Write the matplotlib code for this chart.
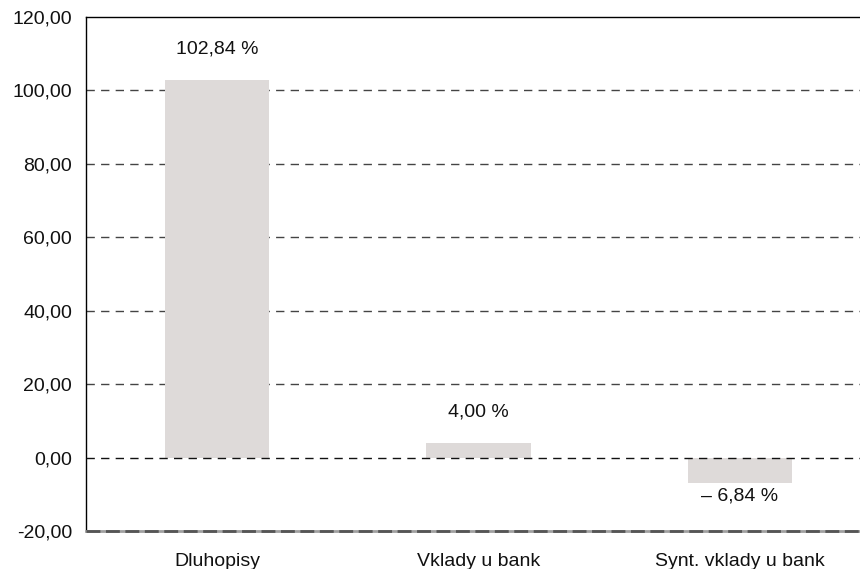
import matplotlib

matplotlib.use("Agg")
import matplotlib.pyplot as plt
from matplotlib.ticker import FuncFormatter

categories = ["Dluhopisy", "Vklady u bank", "Synt. vklady u bank"]
values = [102.84, 4.00, -6.84]
labels = ["102,84 %", "4,00 %", "\u2013 6,84 %"]
yticks = [-20, 0, 20, 40, 60, 80, 100, 120]

plt.rcParams["font.family"] = ["Liberation Sans", "DejaVu Sans"]
plt.rcParams["text.color"] = "#111111"

fig = plt.figure(figsize=(8.6, 5.69), dpi=100)
ax = fig.add_axes([0.1, 0.0668, 0.9, 0.9033])

x = list(range(len(categories)))
ax.bar(x, values, width=0.4, color="#dedad9", zorder=2)

for v in yticks[1:-1]:
    ax.axhline(v, color="#444444" if v else "#111111", lw=1.0,
               dashes=(6, 4.5), zorder=1 if v else 3)
# bottom edge: grey line with darker dashes on top
ax.axhline(-20, color="#a0a0a0", lw=2.0, zorder=3, clip_on=False)
ax.axhline(-20, color="#555555", lw=2.0, dashes=(5, 2), zorder=4, clip_on=False)

for xi, v, lab in zip(x, values, labels):
    if v >= 0:
        ax.annotate(lab, (xi, v), xytext=(0, 16), textcoords="offset points",
                    ha="center", va="bottom", fontsize=14)
    else:
        ax.annotate(lab, (xi, v), xytext=(0, -3.5), textcoords="offset points",
                    ha="center", va="top", fontsize=14)

ax.set_xlim(-0.502, 2.46)
ax.set_ylim(-20, 120)
ax.set_yticks(yticks)
ax.yaxis.set_major_formatter(FuncFormatter(lambda v, p: f"{v:.2f}".replace(".", ",")))
ax.set_xticks(x)
ax.set_xticklabels(categories)
ax.tick_params(axis="both", length=0, labelsize=14, labelcolor="#111111")
ax.tick_params(axis="y", pad=10)
ax.tick_params(axis="x", pad=16)

ax.spines["right"].set_visible(False)
ax.spines["bottom"].set_visible(False)
ax.spines["left"].set_linewidth(1.0)
ax.spines["top"].set_linewidth(1.0)

fig.savefig("out.png", dpi=100)
